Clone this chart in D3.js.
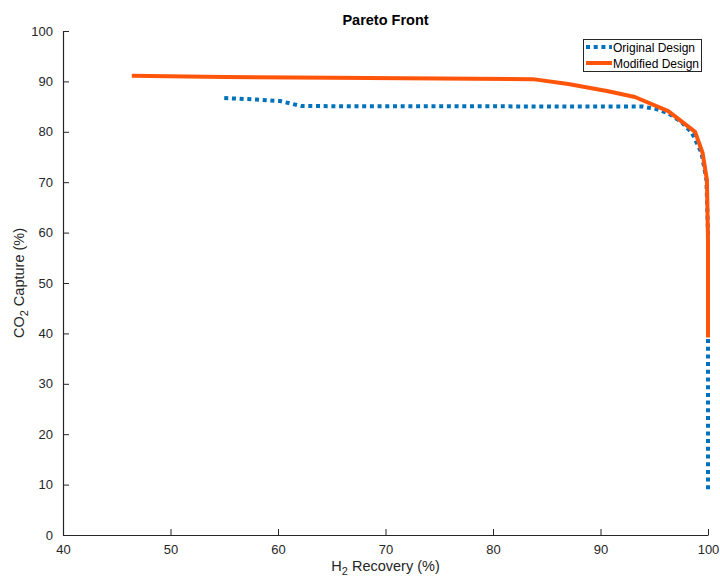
<!DOCTYPE html>
<html>
<head>
<meta charset="utf-8">
<script src="https://cdn.jsdelivr.net/npm/d3@7"></script>
<style>
  html, body { margin: 0; padding: 0; background: #fff; }
  text { font-family: "Liberation Sans", Arial, sans-serif; }
</style>
</head>
<body>
<svg id="chart" width="720" height="576"></svg>
<script>
// Pareto fronts: H2 recovery (%) vs CO2 capture (%)
const originalRecovery = [55.0, 58.0, 60.2, 61.2, 62.2, 70.0, 80.0, 90.0, 93.9, 95.2, 96.3, 97.5, 98.5, 99.4, 99.85, 100.0, 100.0, 100.0, 100.0];
const originalCapture  = [86.7, 86.4, 86.1, 85.6, 85.1, 85.08, 85.05, 85.02, 85.0, 84.5, 83.7, 82.0, 79.8, 75.8, 70.5, 60.0, 40.0, 20.0, 8.5];

const modifiedRecovery = [46.4, 55.0, 65.0, 75.0, 83.7, 87.0, 90.6, 93.2, 96.3, 98.8, 99.5, 99.9, 100.0, 100.0];
const modifiedCapture  = [91.1, 90.85, 90.7, 90.6, 90.45, 89.5, 88.1, 86.9, 84.1, 80.0, 75.8, 70.4, 58.5, 39.2];

const xTicks = [40, 50, 60, 70, 80, 90, 100];
const yTicks = [0, 10, 20, 30, 40, 50, 60, 70, 80, 90, 100];

const seriesNames = ["Original Design", "Modified Design"];
const seriesColors = ["#0072BD", "#FF550A"];

const svg = d3.select("#chart");
const margin = { left: 63, right: 12, top: 31, bottom: 41 };
const W = 720, H = 576;

const x = d3.scaleLinear().domain([40, 100]).range([margin.left, W - margin.right]);
const y = d3.scaleLinear().domain([0, 100]).range([H - margin.bottom, margin.top]);

const axisColor = "#262626";

// Axes with inward ticks
const xAxis = svg.append("g")
  .attr("transform", `translate(0,${y(0)})`)
  .call(d3.axisBottom(x).tickValues(xTicks).tickSizeInner(-6).tickSizeOuter(0).tickPadding(10));
const yAxis = svg.append("g")
  .attr("transform", `translate(${x(40)},0)`)
  .call(d3.axisLeft(y).tickValues(yTicks).tickSizeInner(-6).tickSizeOuter(0).tickPadding(10));

[xAxis, yAxis].forEach(g => {
  g.select(".domain").attr("stroke", axisColor).attr("stroke-width", 1.2);
  g.selectAll(".tick line").attr("stroke", axisColor).attr("stroke-width", 1);
  g.selectAll(".tick text").attr("fill", axisColor).attr("font-size", 13)
    .style("font-family", "'Liberation Sans', Arial, sans-serif");
});

// Series lines
const line = d3.line().x(d => x(d[0])).y(d => y(d[1]));
const originalData = originalRecovery.map((v, i) => [v, originalCapture[i]]);
const modifiedData = modifiedRecovery.map((v, i) => [v, modifiedCapture[i]]);

svg.append("path")
  .datum(originalData)
  .attr("d", line)
  .attr("fill", "none")
  .attr("stroke", seriesColors[0])
  .attr("stroke-width", 4)
  .attr("stroke-dasharray", "4,3.7");

svg.append("path")
  .datum(modifiedData)
  .attr("d", line)
  .attr("fill", "none")
  .attr("stroke", seriesColors[1])
  .attr("stroke-width", 4)
  .attr("stroke-linejoin", "round");

// Title
svg.append("text")
  .attr("x", (x(40) + x(100)) / 2)
  .attr("y", 25)
  .attr("text-anchor", "middle")
  .attr("font-size", 14.5)
  .attr("font-weight", "bold")
  .attr("fill", "#000")
  .text("Pareto Front");

// X label
const xl = svg.append("text")
  .attr("x", (x(40) + x(100)) / 2)
  .attr("y", 571)
  .attr("text-anchor", "middle")
  .attr("font-size", 14.5)
  .attr("fill", axisColor);
xl.append("tspan").text("H");
xl.append("tspan").attr("dy", 4).attr("font-size", 11).text("2");
xl.append("tspan").attr("dy", -4).text(" Recovery (%)");

// Y label
const yl = svg.append("text")
  .attr("transform", `translate(24,${(y(0) + y(100)) / 2}) rotate(-90)`)
  .attr("text-anchor", "middle")
  .attr("font-size", 14.5)
  .attr("fill", axisColor);
yl.append("tspan").text("CO");
yl.append("tspan").attr("dy", 4).attr("font-size", 11).text("2");
yl.append("tspan").attr("dy", -4).text(" Capture (%)");

// Legend
const legend = svg.append("g");
legend.append("rect")
  .attr("x", 583.5).attr("y", 39.5)
  .attr("width", 118).attr("height", 32)
  .attr("fill", "#fff")
  .attr("stroke", "#262626")
  .attr("stroke-width", 1);

seriesNames.forEach((name, i) => {
  const ly = 47 + i * 16;
  legend.append("line")
    .attr("x1", 586).attr("x2", 612)
    .attr("y1", ly).attr("y2", ly)
    .attr("stroke", seriesColors[i])
    .attr("stroke-width", 4)
    .attr("stroke-dasharray", i === 0 ? "4,3.7" : null);
  legend.append("text")
    .attr("x", 613).attr("y", ly + 4.5)
    .attr("font-size", 12)
    .attr("fill", "#000")
    .text(name);
});
</script>
</body>
</html>
